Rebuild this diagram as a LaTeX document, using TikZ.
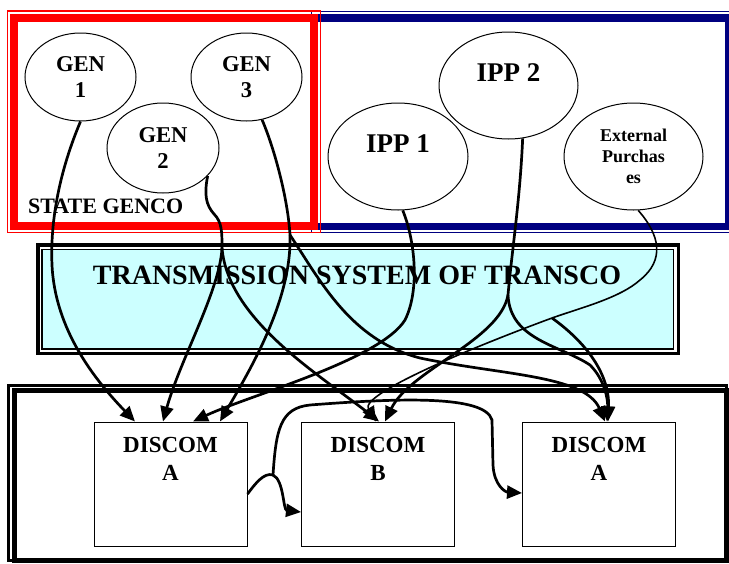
\documentclass[tikz,border=0pt]{standalone}
\usepackage{fontspec}
\setmainfont{Liberation Serif}
\usetikzlibrary{arrows.meta,shapes.geometric,positioning}
\definecolor{gencored}{RGB}{255,0,0}
\definecolor{ippnavy}{RGB}{0,0,128}
\definecolor{gridcyan}{RGB}{204,255,255}

\begin{document}
\begin{tikzpicture}[x=1pt, y=-1pt, >={Triangle[length=15pt,width=13pt]},
 unit/.style={draw, ellipse, fill=white, line width=1pt, inner sep=0pt, align=center},
 gen/.style={unit, minimum width=111pt, minimum height=88pt, font=\fontsize{22.6}{26}\selectfont\bfseries},
 ipp/.style={unit, minimum width=139pt, minimum height=107pt, text depth=26pt, font=\fontsize{27}{30}\selectfont\bfseries},
 discom/.style={draw, line width=1pt, minimum width=153pt, minimum height=124pt, inner sep=0pt},
 dtext/.style={align=center, inner sep=0pt, font=\fontsize{23}{28}\selectfont\bfseries},
 edge/.style={->, line width=2.7pt},
 thinedge/.style={line width=1.6pt}]
\useasboundingbox (0,0) rectangle (729,563);
\draw[ippnavy, line width=1pt] (311,11.3) rectangle (733,232.3);
\draw[ippnavy, line width=7.5pt] (314,18) rectangle (729,226.3);
\draw[gencored, line width=1.2pt] (7.3,11) rectangle (320.7,232.3);
\draw[gencored, line width=8pt] (14,17.5) rectangle (314,226);
\node[anchor=base west, inner sep=0pt, font=\fontsize{22}{26}\selectfont\bfseries] (genco) at (28,213) {STATE GENCO};
\draw[line width=3.5pt] (38,245) rectangle (678.5,353.5);
\draw[fill=gridcyan, line width=1.3pt] (42,249.5) rectangle (673.5,349);
\node[anchor=base, inner sep=0pt, font=\fontsize{28}{32}\selectfont\bfseries] (transco) at (357,284) {TRANSMISSION SYSTEM OF TRANSCO};
\draw[line width=3pt] (8,385.5) rectangle (726,560.5);
\draw[line width=5pt] (14.5,390.5) rectangle (726,560.5);
\node[gen] (gen1) at (80.5,77) {GEN\\1};
\node[gen] (gen3) at (246.5,77) {GEN\\3};
\node[gen, minimum width=112pt, minimum height=90pt] (gen2) at (163,148) {GEN\\2};
\node[ipp] (ipp2) at (508.5,85.5) {IPP 2};
\node[ipp, minimum width=140pt] (ipp1) at (398,156.5) {IPP 1};
\node[unit, minimum width=139pt, minimum height=107pt, font=\fontsize{18}{21}\selectfont\bfseries] (extp) at (633.5,156.5) {External\\Purchas\\es};
\node[discom] (discA) at (170.5,484) {};
\node[discom] (discB) at (378,484) {};
\node[discom] (discA2) at (599,484) {};
\node[dtext, below=16pt of discA.north] (discAtext) {DISCOM\\A};
\node[dtext, below=16pt of discB.north] (discBtext) {DISCOM\\B};
\node[dtext, below=16pt of discA2.north] (discA2text) {DISCOM\\A};
\coordinate (gen2fork) at (222,248);
\coordinate (gen3fork) at (290,235);
\coordinate (ipp2fork) at (508,295);
\coordinate (extpfork) at (552,318);
\coordinate (discfork) at (273,475);
\draw[edge] (gen1.south) .. controls (60,170) and (50,220) .. (52,265) .. controls (55,330) and (95,380) .. ([xshift=-35.5pt]discA.north);
\draw[line width=2.7pt] (gen2.-32) .. controls (204,195) and (206,205) .. (214,214) .. controls (222,222) and (222,232) .. (gen2fork);
\draw[edge] (gen2fork) .. controls (220,290) and (180,360) .. ([xshift=-7.5pt]discA.north);
\draw[edge] (gen2fork) .. controls (228,320) and (320,375) .. ([xshift=1pt]discB.north);
\draw[line width=2.7pt] (gen3.-70) .. controls (275,150) and (288,200) .. (gen3fork);
\draw[edge] (gen3fork) .. controls (292,300) and (250,370) .. ([xshift=49.5pt]discA.north);
\draw[edge] (gen3fork) .. controls (320,280) and (350,340) .. (420,358) .. controls (500,375) and (585,375) .. ([xshift=6pt]discA2.north);
\draw[edge] (ipp1.-85) .. controls (415,240) and (420,290) .. (405,320) .. controls (380,360) and (250,395) .. ([xshift=22.5pt]discA.north);
\draw[line width=2.7pt] (ipp2.-75) .. controls (520,200) and (512,250) .. (ipp2fork);
\draw[edge] (ipp2fork) .. controls (500,340) and (410,370) .. ([xshift=7pt]discB.north);
\draw[edge] (ipp2fork) .. controls (510,340) and (560,345) .. (590,365) .. controls (605,380) and (608,400) .. ([xshift=8pt]discA2.north);
\draw[thinedge] (extp.-85) .. controls (660,235) and (665,260) .. (640,280) .. controls (620,298) and (580,308) .. (extpfork);
\draw[thinedge, ->] (extpfork) .. controls (460,352) and (360,395) .. ([xshift=-2pt]discB.north);
\draw[edge] (extpfork) .. controls (580,338) and (610,370) .. ([xshift=9pt]discA2.north);
\draw[line width=2.7pt] ([yshift=-10pt]discA.east) .. controls (255,484) and (264,472) .. (discfork);
\draw[edge] (discfork) .. controls (284,480) and (283,510) .. ([yshift=-28pt]discB.west);
\draw[edge] (discfork) .. controls (276,430) and (280,408) .. (310,405) .. controls (400,398) and (485,395) .. (492,420) -- (493,465) .. controls (494,485) and (505,492) .. ([yshift=-9pt]discA2.west);
\end{tikzpicture}
\end{document}
